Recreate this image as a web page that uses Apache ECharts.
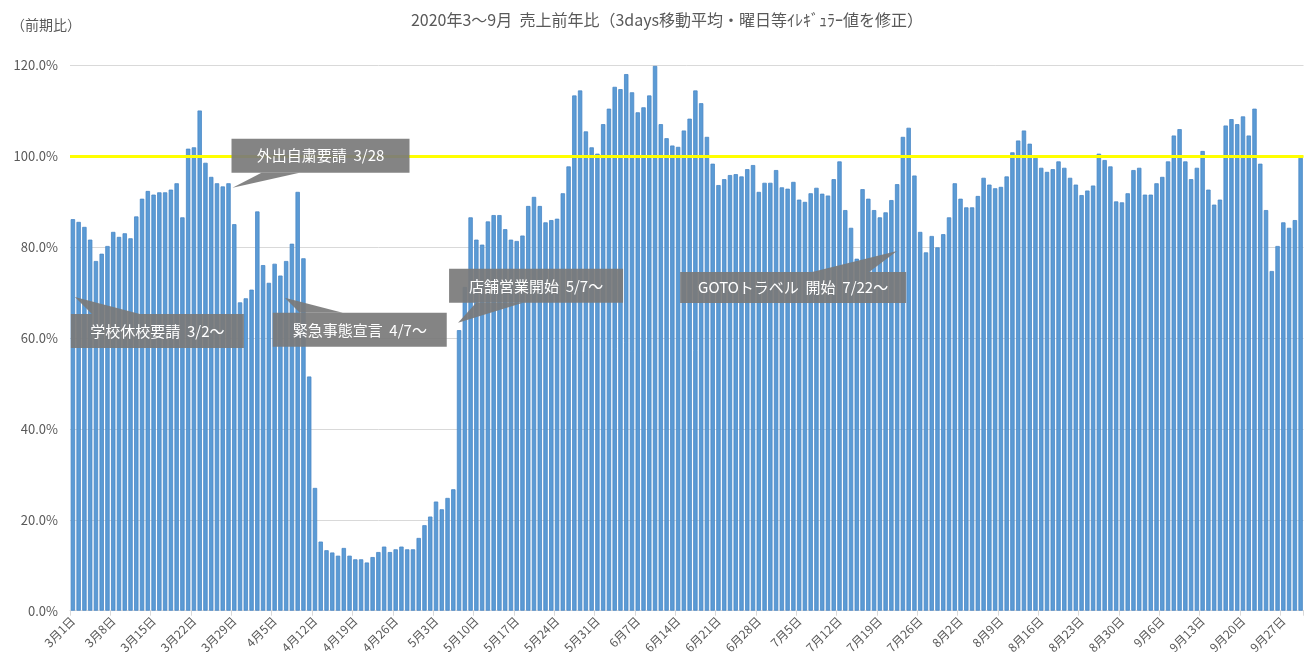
<!DOCTYPE html>
<html lang="ja">
<head>
<meta charset="utf-8">
<title>売上前年比</title>
<script src="https://cdn.jsdelivr.net/npm/echarts@6/dist/echarts.min.js"></script>
<style>
html,body{margin:0;height:100%;background:#fff;}
#main{width:1308px;height:665px;}
</style>
</head>
<body>
<div id="main"></div>
<script>
// 月ごとの日数 -> カテゴリ (3月1日 ... 9月30日)
var months = [3, 4, 5, 6, 7, 8, 9];
var monthLen = [31, 30, 31, 30, 31, 31, 30];

// 売上前年比 (%)
var march = [86.1, 85.5, 84.4, 81.6, 76.9, 78.5, 80.2, 83.3, 82.2, 83.0, 81.9, 86.7, 90.6, 92.3, 91.5, 92.0,
  92.0, 92.6, 94.0, 86.5, 101.6, 101.9, 110.0, 98.5, 95.4, 94.0, 93.3, 94.0, 85.0, 67.8, 68.7];
var april = [70.6, 87.8, 76.0, 72.1, 76.3, 73.7, 76.9, 80.7, 92.1, 77.5, 51.5, 27.0, 15.2, 13.3, 12.8, 12.1,
  13.8, 12.1, 11.3, 11.3, 10.6, 11.8, 12.9, 14.1, 12.9, 13.5, 14.1, 13.5, 13.5, 16.0];
var may = [18.8, 20.7, 24.0, 22.3, 24.8, 26.7, 61.7, 71.2, 86.5, 81.6, 80.5, 85.6, 87.0, 87.0, 83.9, 81.6,
  81.3, 82.5, 89.0, 91.0, 89.0, 85.4, 85.9, 86.2, 91.8, 97.7, 113.3, 114.4, 105.4, 101.9, 100.5];
var june = [107.0, 110.4, 115.2, 114.7, 118.0, 114.0, 109.6, 110.7, 113.3, 119.8, 107.0, 103.9, 102.3, 102.0, 105.6, 108.2,
  114.4, 111.6, 104.2, 98.3, 93.6, 94.9, 95.8, 96.0, 95.5, 97.1, 98.0, 92.1, 94.1, 94.1];
var july = [96.9, 93.1, 92.8, 94.3, 90.4, 89.9, 91.8, 93.0, 91.7, 91.3, 94.9, 98.8, 88.1, 84.2, 77.4, 92.7,
  90.6, 88.1, 86.5, 87.6, 90.3, 93.8, 104.2, 106.2, 95.7, 83.3, 78.8, 82.4, 79.9, 82.8, 86.5];
var august = [94.0, 90.6, 88.7, 88.7, 91.2, 95.2, 93.7, 92.9, 93.2, 95.5, 100.8, 103.4, 105.6, 102.7, 99.6, 97.4,
  96.5, 97.1, 98.8, 97.4, 95.2, 93.7, 91.4, 92.4, 93.5, 100.5, 99.1, 97.7, 90.0, 89.8, 91.8];
var september = [96.9, 97.4, 91.5, 91.5, 94.0, 95.4, 98.8, 104.5, 105.9, 98.8, 94.9, 97.4, 101.1, 92.6, 89.3, 90.4,
  106.7, 108.1, 107.0, 108.7, 104.5, 110.4, 98.3, 88.1, 74.7, 80.2, 85.4, 84.2, 85.9, 99.6];

var yTicks = [0, 20, 40, 60, 80, 100, 120];
var baseline = 100;

var dates = [];
months.forEach(function (m, k) {
  for (var d = 1; d <= monthLen[k]; d++) dates.push(m + '月' + d + '日');
});
var values = [].concat(march, april, may, june, july, august, september);

// 吹き出し: [文字, 指す日, 指す値]
var notes = [
  ['外出自粛要請  3/28', '3月28日', 93.0],
  ['学校休校要請  3/2～', '3月1日', 69.0],
  ['緊急事態宣言  4/7～', '4月7日', 68.8],
  ['店舗営業開始  5/7～', '5月7日', 63.3],
  ['GOTOトラベル  開始  7/22～', '7月22日', 79.1]
];
// 吹き出しの形 (先端からのずれ): 箱 x,y,w,h / 付け根 x1,x2
var noteShape = [
  {dx: 4, bx: -1, by: -49, bw: 178, bh: 34, p1: 29, p2: 67},
  {dx: 2, bx: -4, by: 17, bw: 173, bh: 34, p1: 17, p2: 65},
  {dx: -1.4, bx: -12, by: 15, bw: 174, bh: 34, p1: 15, p2: 58},
  {dx: -1, bx: -9, by: -54, bw: 174, bh: 34, p1: 18, p2: 65},
  {dx: 0, bx: -217, by: 21, bw: 226, bh: 31, p1: -85, p2: -28}
];

var FONT = '"Noto Sans CJK JP", "Noto Sans", sans-serif';
var chart = echarts.init(document.getElementById('main'));

chart.setOption({
  animation: false,
  backgroundColor: '#fff',
  title: [{
    text: '2020年3～9月  売上前年比（3days移動平均・曜日等ｲﾚｷﾞｭﾗｰ値を修正）',
    left: 662, top: 7, textAlign: 'center',
    textStyle: {fontFamily: FONT, fontSize: 16, fontWeight: 'normal', color: '#595959'}
  }, {
    text: '（前期比）',
    left: 6, top: 13,
    textStyle: {fontFamily: FONT, fontSize: 14, fontWeight: 'normal', color: '#595959'}
  }],
  grid: {left: 70, right: 4.5, top: 65, bottom: 54.3, containLabel: false},
  xAxis: {
    type: 'category',
    data: dates,
    boundaryGap: true,
    axisLine: {lineStyle: {color: '#d9d9d9', width: 1}},
    axisTick: {show: true, interval: 6, length: 5, lineStyle: {color: '#d9d9d9'}},
    axisLabel: {
      interval: 6, rotate: 45, margin: 8,
      fontFamily: FONT, fontSize: 12, color: '#595959'
    }
  },
  yAxis: {
    type: 'value',
    min: yTicks[0], max: yTicks[yTicks.length - 1], interval: 20,
    axisLine: {show: false},
    axisTick: {show: false},
    splitLine: {lineStyle: {color: '#d9d9d9', width: 1}},
    axisLabel: {
      margin: 12, fontFamily: FONT, fontSize: 13, color: '#595959',
      formatter: function (v) { return v.toFixed(1) + '%'; }
    }
  },
  series: [{
    type: 'bar',
    data: values,
    barCategoryGap: '24%',
    itemStyle: {color: '#5B9BD5', borderColor: '#4a88c6', borderWidth: 0.8},
    silent: true,
    markLine: {
      silent: true,
      symbol: 'none',
      label: {show: false},
      lineStyle: {color: '#FFFF00', width: 3, type: 'solid'},
      data: [{yAxis: baseline}],
      z: 10
    }
  }]
});

// 吹き出しを描く
var els = [];
notes.forEach(function (n, i) {
  var s = noteShape[i];
  var tip = chart.convertToPixel({xAxisIndex: 0, yAxisIndex: 0}, [n[1], n[2]]);
  var tx = tip[0] + s.dx, ty = tip[1];
  var bx = tx + s.bx, by = ty + s.by;
  var baseY = s.by > 0 ? by : by + s.bh;
  els.push({
    type: 'polygon', z: 100,
    shape: {points: [[tx, ty], [tx + s.p1, baseY], [tx + s.p2, baseY]]},
    style: {fill: 'rgba(122,122,122,0.92)'}
  });
  els.push({
    type: 'rect', z: 100,
    shape: {x: bx, y: by, width: s.bw, height: s.bh},
    style: {fill: 'rgba(122,122,122,0.92)'}
  });
  els.push({
    type: 'text', z: 101,
    style: {
      x: bx + s.bw / 2, y: by + s.bh / 2,
      text: n[0], fill: '#fff',
      font: '15px ' + FONT,
      align: 'center', verticalAlign: 'middle'
    }
  });
});
chart.setOption({graphic: els});
</script>
</body>
</html>
